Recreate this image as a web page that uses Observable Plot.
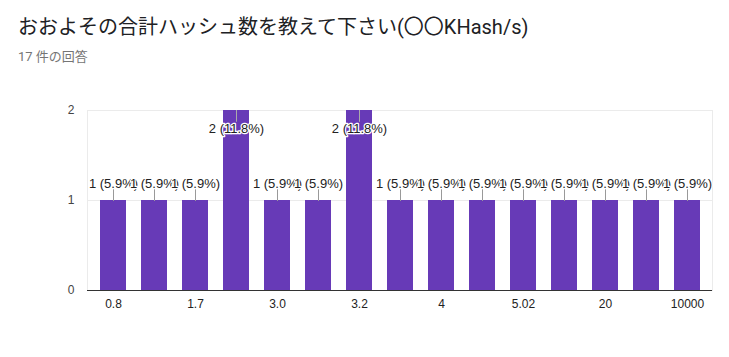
<!DOCTYPE html>
<html><head><meta charset="utf-8">
<script src="https://cdn.jsdelivr.net/npm/d3@7"></script>
<script src="https://cdn.jsdelivr.net/npm/@observablehq/plot@0.6"></script>
<style>
body{margin:0;background:#fff;}
#wrap{position:relative;width:729px;height:357px;overflow:hidden;background:#fff;}
#title{position:absolute;left:18px;top:13px;font-size:20px;font-family:Roboto,"Noto Sans CJK JP",sans-serif;color:#202124;white-space:nowrap;line-height:28px;}
#sub{position:absolute;left:18px;top:48px;font-size:13px;font-family:Roboto,"Noto Sans CJK JP",sans-serif;color:#757575;white-space:nowrap;line-height:18px;}
#chart{position:absolute;left:0;top:80px;}
</style></head><body>
<div id="wrap">
<div id="title">おおよその合計ハッシュ数を教えて下さい(〇〇KHash/s)</div>
<div id="sub">17 件の回答</div>
<div id="chart"></div>
</div>
<script>
const categories = ["0.8","1","1.7","2","3.0","3.1","3.2","3.5","4","5","5.02","10","20","100","10000"];
const counts = [1,1,1,2,1,1,2,1,1,1,1,1,1,1,1];
const tickLabels = ["0.8","1.7","3.0","3.2","4","5.02","20","10000"];
const yTicks = [0,1,2];
const total = 17;

const data = categories.map((c, i) => ({
  cat: c,
  n: counts[i],
  label: `${counts[i]} (${(counts[i] / total * 100).toFixed(1)}%)`
}));
const yMax = d3.max(counts);
const low = data.filter(d => d.n < yMax);
const high = data.filter(d => d.n === yMax);

const chart = Plot.plot({
  width: 729,
  height: 277,
  marginTop: 30,
  marginBottom: 67,
  marginLeft: 87,
  marginRight: 17,
  style: {fontFamily: '"Liberation Sans", Arial, sans-serif', fontSize: "12px", background: "white", overflow: "visible"},
  x: {domain: categories, paddingInner: 0.375, paddingOuter: 0.19, axis: null},
  y: {domain: [0, yMax], axis: null},
  marks: [
    Plot.frame({stroke: "#ebebeb"}),
    Plot.ruleY(yTicks.filter(t => t > 0), {stroke: "#ebebeb"}),
    Plot.barY(data, {x: "cat", y: "n", fill: "#673ab7"}),
    Plot.ruleY([0], {stroke: "#333"}),
    Plot.vector(low, {x: "cat", y: "n", length: 12, rotate: 0, anchor: "start", shape: "spike", r: 0, stroke: "#999", fill: "none", strokeWidth: 1}),
    Plot.vector(high, {x: "cat", y: "n", length: 11, rotate: 180, anchor: "start", shape: "spike", r: 0, stroke: "#aaa", fill: "none", strokeWidth: 1}),
    Plot.text(low, {x: "cat", y: "n", text: "label", dy: -17, fill: "#222", stroke: "white", strokeWidth: 2.5, fontSize: 13}),
    Plot.text(high, {x: "cat", y: "n", text: "label", dy: 18, fill: "#222", stroke: "white", strokeWidth: 2.5, fontSize: 13}),
    Plot.axisX({ticks: tickLabels, tickSize: 0, tickPadding: 9, fill: "#222", label: null, fontSize: 12}),
    Plot.axisY({ticks: yTicks, tickSize: 0, tickPadding: 13, fill: "#444", label: null, tickFormat: "d", fontSize: 12})
  ]
});
document.getElementById("chart").appendChild(chart);
</script>
</body></html>
